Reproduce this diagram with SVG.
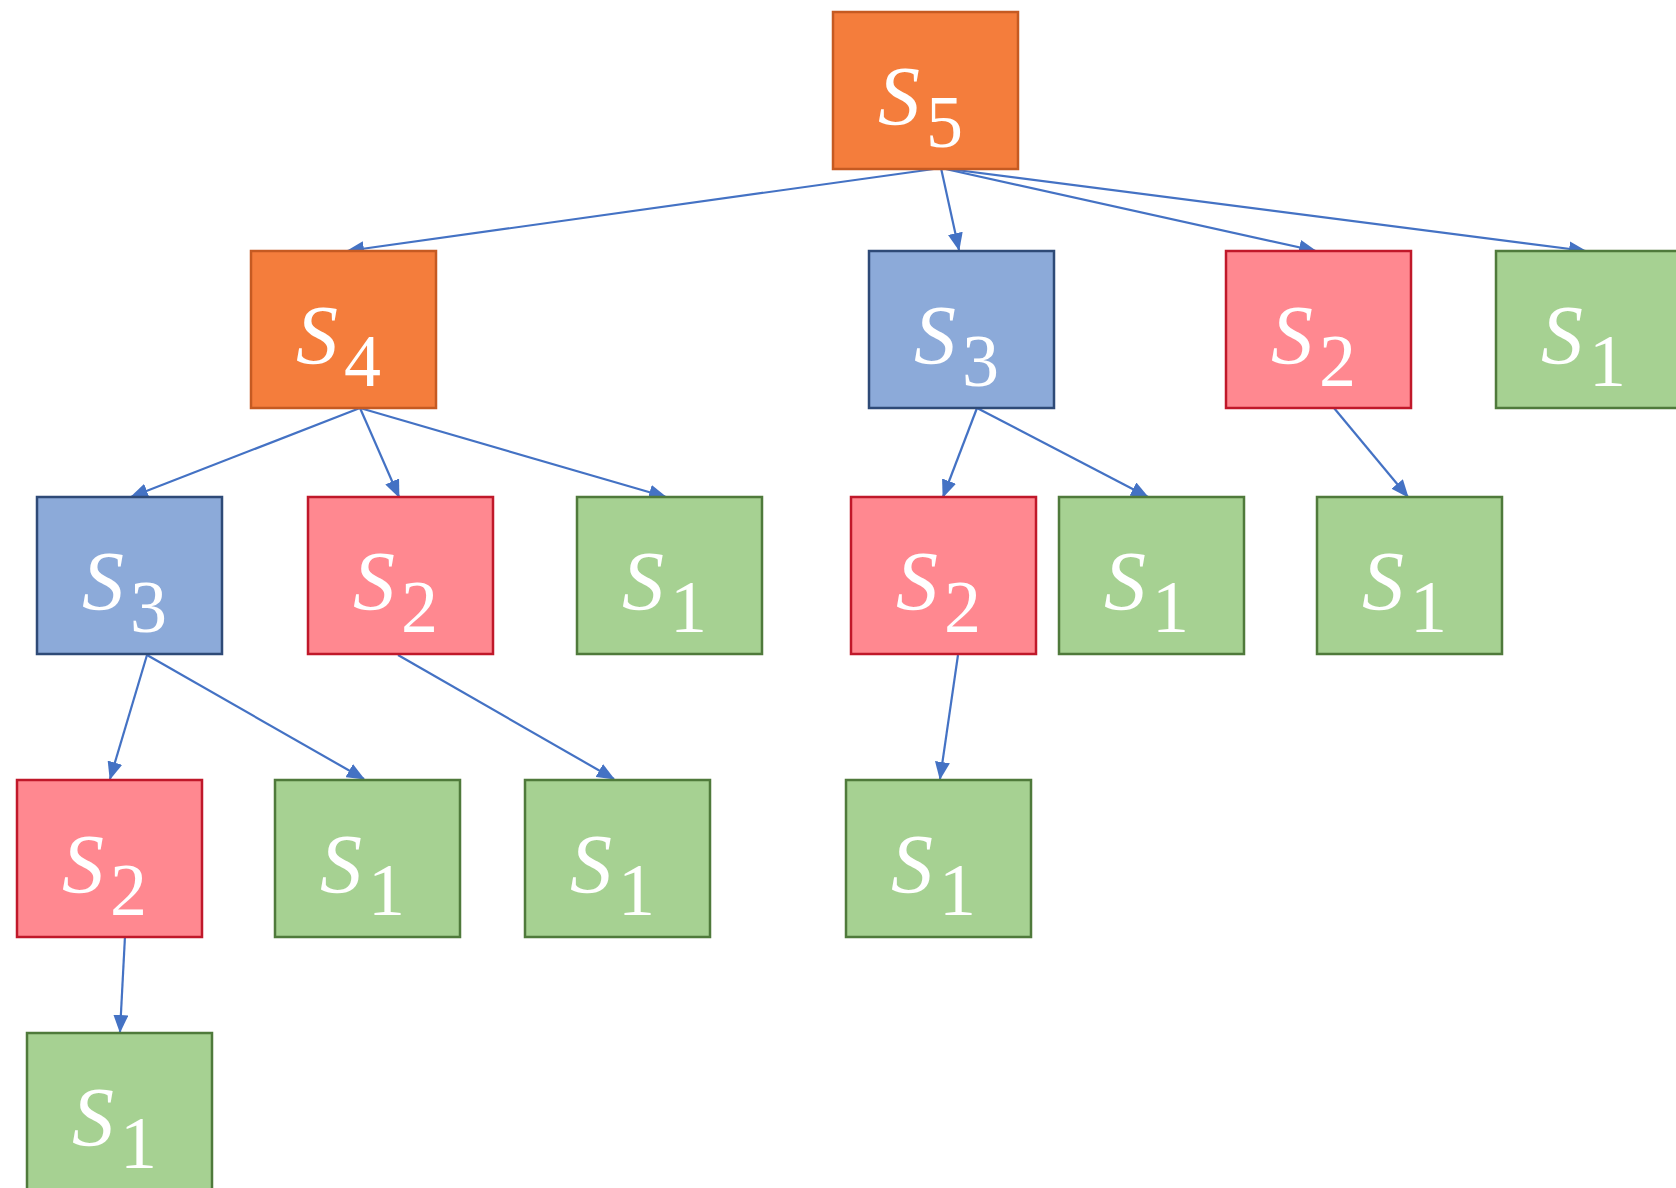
<svg xmlns="http://www.w3.org/2000/svg" width="1676" height="1188" viewBox="0 0 1676 1188">
<defs>
<style>
.n rect{stroke-width:2.5}
.o rect{fill:#F47D3C;stroke:#C55A22}
.b rect{fill:#8CAAD9;stroke:#2E4A77}
.r rect{fill:#FF8890;stroke:#C0182A}
.g rect{fill:#A6D192;stroke:#4F7A3B}
.n text{fill:#fff;font-family:"Liberation Serif","DejaVu Serif",serif;font-size:74px;font-variant-numeric:lining-nums;font-feature-settings:"lnum" 1,"onum" 0}
.n .s{font-style:italic;font-size:84px}
.e line{stroke:#4472C4;stroke-width:2.2}
</style>
<marker id="ah" markerUnits="userSpaceOnUse" markerWidth="18" markerHeight="15" viewBox="0 0 18 15" refX="17" refY="7.5" orient="auto">
<path d="M0,0 L18,7.5 L0,15 Z" fill="#4472C4"/>
</marker>
</defs>
<rect width="1676" height="1188" fill="#fff"/>
<g id="connectors" class="e">
<line x1="941" y1="168" x2="347" y2="251" marker-end="url(#ah)"/>
<line x1="941" y1="168" x2="959" y2="250" marker-end="url(#ah)"/>
<line x1="941" y1="168" x2="1316" y2="251" marker-end="url(#ah)"/>
<line x1="941" y1="168" x2="1586" y2="251" marker-end="url(#ah)"/>
<line x1="360" y1="408" x2="131" y2="497" marker-end="url(#ah)"/>
<line x1="360" y1="408" x2="399" y2="497" marker-end="url(#ah)"/>
<line x1="360" y1="408" x2="666" y2="497" marker-end="url(#ah)"/>
<line x1="977" y1="408" x2="943" y2="497" marker-end="url(#ah)"/>
<line x1="977" y1="408" x2="1148" y2="497" marker-end="url(#ah)"/>
<line x1="1334" y1="408" x2="1408" y2="497" marker-end="url(#ah)"/>
<line x1="147" y1="655" x2="110" y2="779" marker-end="url(#ah)"/>
<line x1="147" y1="655" x2="364" y2="779" marker-end="url(#ah)"/>
<line x1="398" y1="655" x2="614" y2="779" marker-end="url(#ah)"/>
<line x1="958" y1="655" x2="940" y2="779" marker-end="url(#ah)"/>
<line x1="125" y1="936" x2="120" y2="1032" marker-end="url(#ah)"/>
</g>
<g id="s5" class="n o"><rect x="833" y="12" width="185" height="157"/><text><tspan class="s" x="878" y="125">S</tspan><tspan x="926" y="147">5</tspan></text></g>
<g id="s4" class="n o"><rect x="251" y="251" width="185" height="157"/><text><tspan class="s" x="296" y="364">S</tspan><tspan x="344" y="386">4</tspan></text></g>
<g id="s3a" class="n b"><rect x="869" y="251" width="185" height="157"/><text><tspan class="s" x="914" y="364">S</tspan><tspan x="962" y="386">3</tspan></text></g>
<g id="s2a" class="n r"><rect x="1226" y="251" width="185" height="157"/><text><tspan class="s" x="1271" y="364">S</tspan><tspan x="1319" y="386">2</tspan></text></g>
<g id="s1a" class="n g"><rect x="1496" y="251" width="185" height="157"/><text><tspan class="s" x="1541" y="364">S</tspan><tspan x="1589" y="386">1</tspan></text></g>
<g id="s3b" class="n b"><rect x="37" y="497" width="185" height="157"/><text><tspan class="s" x="82" y="610">S</tspan><tspan x="130" y="632">3</tspan></text></g>
<g id="s2b" class="n r"><rect x="308" y="497" width="185" height="157"/><text><tspan class="s" x="353" y="610">S</tspan><tspan x="401" y="632">2</tspan></text></g>
<g id="s1b" class="n g"><rect x="577" y="497" width="185" height="157"/><text><tspan class="s" x="622" y="610">S</tspan><tspan x="670" y="632">1</tspan></text></g>
<g id="s2c" class="n r"><rect x="851" y="497" width="185" height="157"/><text><tspan class="s" x="896" y="610">S</tspan><tspan x="944" y="632">2</tspan></text></g>
<g id="s1c" class="n g"><rect x="1059" y="497" width="185" height="157"/><text><tspan class="s" x="1104" y="610">S</tspan><tspan x="1152" y="632">1</tspan></text></g>
<g id="s1d" class="n g"><rect x="1317" y="497" width="185" height="157"/><text><tspan class="s" x="1362" y="610">S</tspan><tspan x="1410" y="632">1</tspan></text></g>
<g id="s2d" class="n r"><rect x="17" y="780" width="185" height="157"/><text><tspan class="s" x="62" y="893">S</tspan><tspan x="110" y="915">2</tspan></text></g>
<g id="s1e" class="n g"><rect x="275" y="780" width="185" height="157"/><text><tspan class="s" x="320" y="893">S</tspan><tspan x="368" y="915">1</tspan></text></g>
<g id="s1f" class="n g"><rect x="525" y="780" width="185" height="157"/><text><tspan class="s" x="570" y="893">S</tspan><tspan x="618" y="915">1</tspan></text></g>
<g id="s1g" class="n g"><rect x="846" y="780" width="185" height="157"/><text><tspan class="s" x="891" y="893">S</tspan><tspan x="939" y="915">1</tspan></text></g>
<g id="s1h" class="n g"><rect x="27" y="1033" width="185" height="157"/><text><tspan class="s" x="72" y="1146">S</tspan><tspan x="120" y="1168">1</tspan></text></g>
</svg>
